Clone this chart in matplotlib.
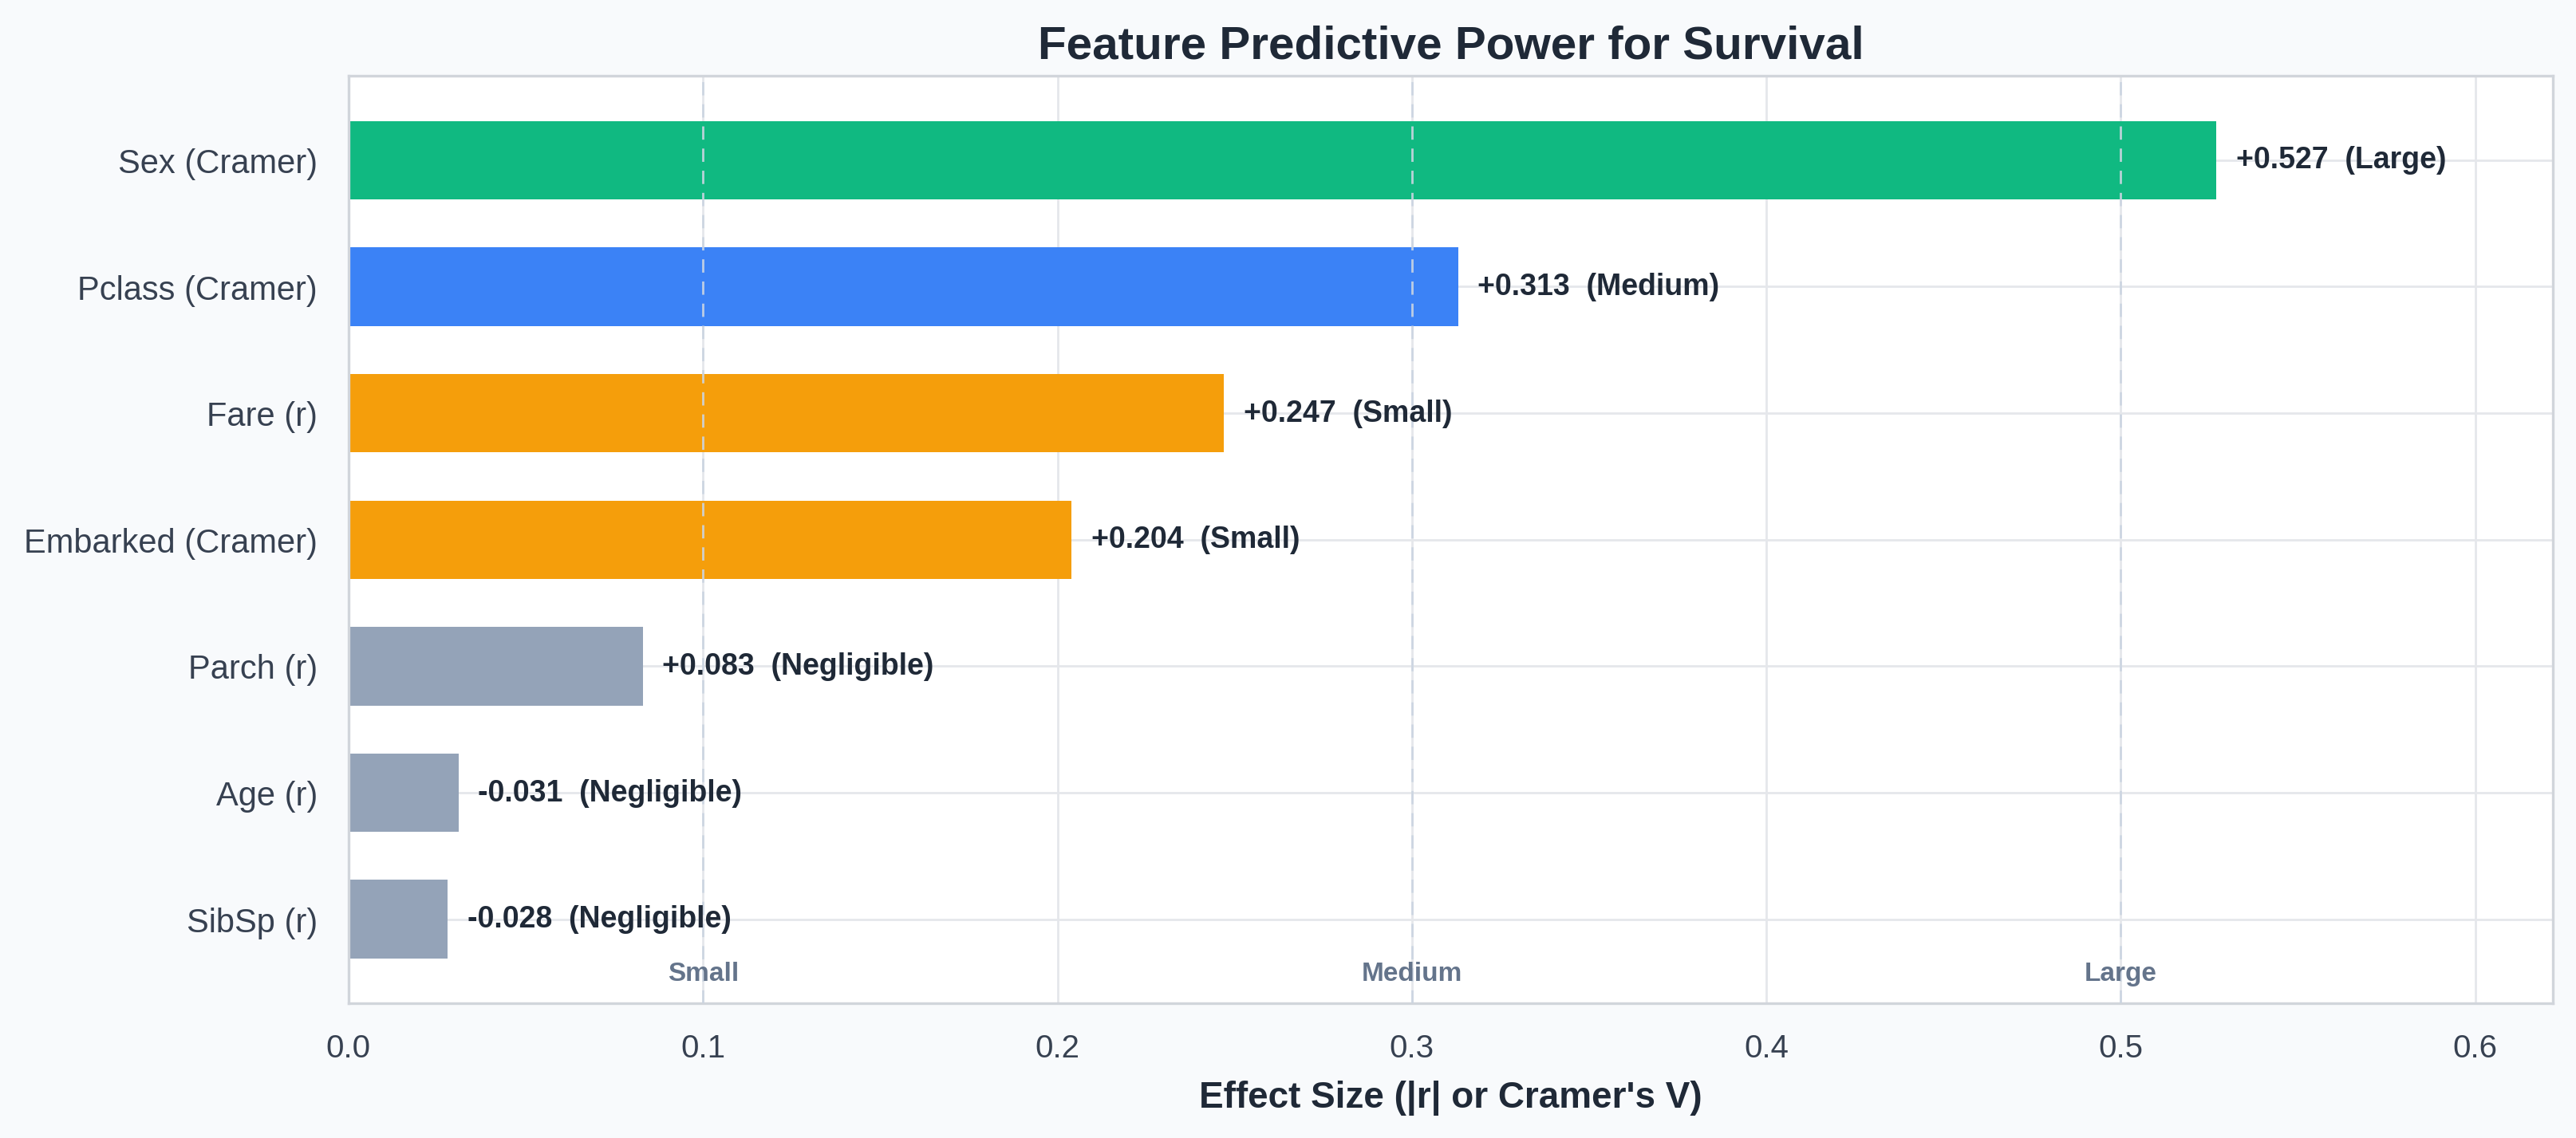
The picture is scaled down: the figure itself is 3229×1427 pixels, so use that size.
import matplotlib
matplotlib.use("Agg")
import matplotlib.pyplot as plt
import numpy as np

# data (sorted by absolute effect size)
features = ['Sex (Cramer)', 'Pclass (Cramer)', 'Fare (r)', 'Embarked (Cramer)',
            'Parch (r)', 'Age (r)', 'SibSp (r)']
effects = [0.527, 0.313, 0.247, 0.204, 0.083, -0.031, -0.028]
magnitudes = ['Large', 'Medium', 'Small', 'Small', 'Negligible', 'Negligible', 'Negligible']
thresholds = [0.1, 0.3, 0.5]
threshold_names = ['Small', 'Medium', 'Large']

mag_colors = {'Large': '#10b981', 'Medium': '#3b82f6',
              'Small': '#f59e0b', 'Negligible': '#94a3b8'}

plt.rcParams['font.family'] = ['Liberation Sans', 'DejaVu Sans']

fig = plt.figure(figsize=(16.145, 7.138), dpi=200, facecolor='#f8fafc')
ax = fig.add_axes([0.1353, 0.1183, 0.8557, 0.8145])
ax.set_facecolor('white')

y = np.arange(len(features))
widths = np.abs(effects)
colors = [mag_colors[m] for m in magnitudes]
ax.barh(y, widths, height=0.62, color=colors, zorder=2)

for yi, val, w, m in zip(y, effects, widths, magnitudes):
    ax.text(w + 0.0055, yi, f'{val:+.3f}  ({m})', ha='left', va='center',
            fontsize=13.5, fontweight='bold', color='#1f2937', zorder=4)

for t, name in zip(thresholds, threshold_names):
    ax.axvline(t, color='#cbd5e1', linestyle=(0, (6, 4)), linewidth=1.0,
               alpha=0.9, zorder=3)
    ax.text(t, 6.43, name, ha='center', va='center', fontsize=12,
            fontweight='bold', color='#64748b', zorder=4)

ax.set_yticks(y)
ax.set_yticklabels(features)
ax.set_ylim(6.665, -0.665)
ax.set_xlim(0, max(widths) * 1.18)
ax.set_xticks([0.0, 0.1, 0.2, 0.3, 0.4, 0.5, 0.6])
ax.set_xticklabels(['0.0', '0.1', '0.2', '0.3', '0.4', '0.5', '0.6'])

ax.tick_params(axis='y', length=0, pad=14, labelsize=15, labelcolor='#374151')
ax.tick_params(axis='x', length=0, pad=13.5, labelsize=14.5, labelcolor='#374151')

ax.grid(True, color='#e5e7eb', linewidth=1.0, zorder=0)
ax.set_axisbelow(True)

for s in ax.spines.values():
    s.set_color('#d1d5db')
    s.set_linewidth(1.2)

ax.set_xlabel("Effect Size (|r| or Cramer's V)", fontsize=16.5, fontweight='bold',
              color='#1f2937', labelpad=7.5)
ax.set_title('Feature Predictive Power for Survival', fontsize=21, fontweight='bold',
             color='#1f2937', pad=8)

fig.savefig('out.png', dpi=200, facecolor=fig.get_facecolor())
